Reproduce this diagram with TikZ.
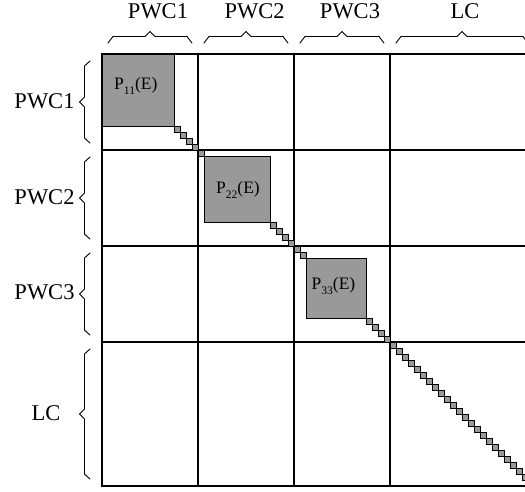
\documentclass[tikz,border=0pt]{standalone}
\usepackage{fontspec}
\setmainfont{Liberation Serif}
\definecolor{blockgray}{RGB}{153,153,153}
\begin{document}
\begin{tikzpicture}[x=1pt,y=-1pt,
  gridline/.style={line width=1.2pt},
  block/.style={draw, line width=0.9pt, fill=blockgray},
  cell/.style={draw, line width=0.8pt, fill=blockgray},
  brc/.style={line width=0.9pt, line join=round, line cap=round},
  lab/.style={font=\fontsize{22.5}{24}\selectfont, inner sep=0pt, anchor=base},
  plab/.style={font=\fontsize{17.5}{19}\selectfont, inner sep=0pt, anchor=base west}]
\useasboundingbox (0,0) rectangle (525,491);
\clip (0,0) rectangle (525,491);

% matrix grid: three 96pt blocks and one 144pt block
\draw[gridline] (102,54) rectangle (534,486);
\foreach \x in {198,294,390} \draw[gridline] (\x,54) -- (\x,486);
\foreach \y in {150,246,342} \draw[gridline] (102,\y) -- (534,\y);

% dense diagonal blocks
\draw[block] (102,54) rectangle (174,126);
\draw[block] (204,156) rectangle (270,222);
\draw[block] (306,258) rectangle (366,318);

% small diagonal entries
\foreach \i in {0,...,4} \draw[cell] ({174+6*\i},{126+6*\i}) rectangle ++(6,6);
\foreach \i in {0,...,5} \draw[cell] ({270+6*\i},{222+6*\i}) rectangle ++(6,6);
\foreach \i in {0,...,27} \draw[cell] ({366+6*\i},{318+6*\i}) rectangle ++(6,6);

% block labels
\node[plab] (p11) at (114,89.3) {P\raisebox{-5pt}{\fontsize{11.5}{11.5}\selectfont 11}(E)};
\node[plab] (p22) at (216,193.3) {P\raisebox{-5pt}{\fontsize{11.5}{11.5}\selectfont 22}(E)};
\node[plab] (p33) at (311.5,289) {P\raisebox{-5pt}{\fontsize{11.5}{11.5}\selectfont 33}(E)};

% braces above the columns
\foreach \a/\b in {102/198,198/294,294/390,390/534}
  \draw[brc] ({\a+6},43) -- ({\a+11},36.5) -- ({(\a+\b)/2-5},36.5) -- ({(\a+\b)/2},31.5)
    -- ({(\a+\b)/2+5},36.5) -- ({\b-11},36.5) -- ({\b-6},43);

% braces left of the rows
\foreach \a/\b in {54/150,150/246,246/342,342/486}
  \draw[brc] (90,{\a+7}) -- (84.5,{\a+12}) -- (84.5,{(\a+\b)/2-5}) -- (79.5,{(\a+\b)/2})
    -- (84.5,{(\a+\b)/2+5}) -- (84.5,{\b-12}) -- (90,{\b-7});

% column labels
\node[lab] (cpwc1) at (158,18.3) {PWC1};
\node[lab] (cpwc2) at (254.7,18.3) {PWC2};
\node[lab] (cpwc3) at (350,18.3) {PWC3};
\node[lab] (clc) at (465,18.3) {LC};

% row labels
\node[lab] (rpwc1) at (44.5,108.3) {PWC1};
\node[lab] (rpwc2) at (44.5,204.3) {PWC2};
\node[lab] (rpwc3) at (44.5,299.3) {PWC3};
\node[lab] (rlc) at (46,420.7) {LC};
\end{tikzpicture}
\end{document}
